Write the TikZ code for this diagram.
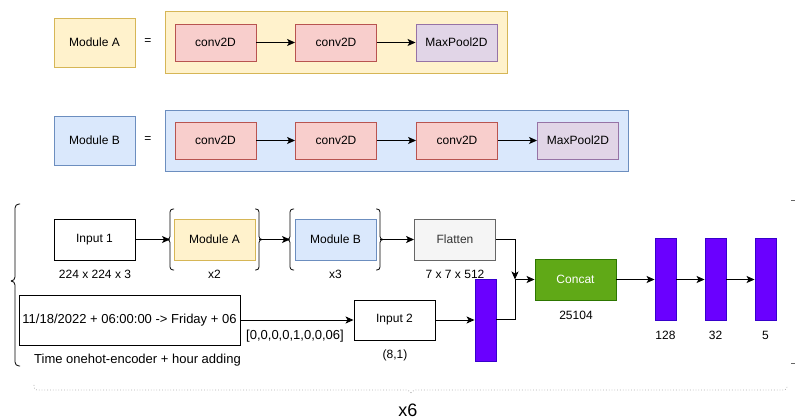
\documentclass[tikz,border=0pt]{standalone}
\usepackage{fontspec}
\setmainfont{Liberation Sans}
\usetikzlibrary{arrows.meta}
\definecolor{yelF}{HTML}{FFF2CC}\definecolor{yelD}{HTML}{D6B656}
\definecolor{bluF}{HTML}{DAE8FC}\definecolor{bluD}{HTML}{6C8EBF}
\definecolor{redF}{HTML}{F8CECC}\definecolor{redD}{HTML}{B85450}
\definecolor{purF}{HTML}{E1D5E7}\definecolor{purD}{HTML}{9673A6}
\definecolor{gryF}{HTML}{F5F5F5}\definecolor{gryD}{HTML}{666666}\definecolor{gryT}{HTML}{333333}
\definecolor{grnF}{HTML}{60A917}\definecolor{grnD}{HTML}{2D7600}
\definecolor{vioF}{HTML}{6A00FF}\definecolor{vioD}{HTML}{3700CC}
\definecolor{dotC}{HTML}{B0B0B0}
\begin{document}
\begin{tikzpicture}[x=1pt,y=-1pt,
  every node/.style={font=\fontsize{12}{14}\selectfont, inner sep=0pt},
  box/.style={draw, line width=0.9pt, minimum width=81pt, minimum height=41pt},
  modA/.style={box, fill=yelF, draw=yelD},
  modB/.style={box, fill=bluF, draw=bluD},
  lbl/.style={box, minimum height=49pt},
  conv/.style={box, fill=redF, draw=redD, minimum height=37pt},
  pool/.style={box, fill=purF, draw=purD, minimum height=37pt},
  cont/.style={draw, line width=0.9pt, inner sep=0pt},
  plain/.style={box, fill=white, draw=black},
  dense/.style={draw=vioD, fill=vioF, line width=0.9pt, minimum width=21pt, minimum height=82pt},
  conn/.style={line width=0.9pt, -{Stealth[length=8pt,width=7pt,inset=2pt]}},
  line/.style={line width=0.9pt},
  brk/.style={line width=0.8pt, rounded corners=3pt},
]
\useasboundingbox (0,0) rectangle (795,419);

% ---------- top definitions ----------
\node[cont, fill=yelF, draw=yelD, minimum width=342pt, minimum height=61.5pt] (contA) at (336,42.25) {};
\node[lbl, fill=yelF, draw=yelD] (labA) at (94.5,42.5) {Module A};
\node (eqA) at (148,41.5) {=};
\node[conv] (cA1) at (215.5,42.5) {conv2D};
\node[conv] (cA2) at (336,42.5) {conv2D};
\node[pool] (mpA) at (456.5,42.5) {MaxPool2D};
\draw[conn] (cA1) -- (cA2);
\draw[conn] (cA2) -- (mpA);

\node[cont, fill=bluF, draw=bluD, minimum width=463pt, minimum height=61pt] (contB) at (396.5,140.5) {};
\node[lbl, fill=bluF, draw=bluD] (labB) at (94.5,140.5) {Module B};
\node (eqB) at (148,139.5) {=};
\node[conv] (cB1) at (215.5,140.5) {conv2D};
\node[conv] (cB2) at (336,140.5) {conv2D};
\node[conv] (cB3) at (457,140.5) {conv2D};
\node[pool] (mpB) at (578,140.5) {MaxPool2D};
\draw[conn] (cB1) -- (cB2);
\draw[conn] (cB2) -- (cB3);
\draw[conn] (cB3) -- (mpB);

% ---------- bottom network ----------
\node[plain] (in1) at (94.5,239.5) {Input 1};
\node (in1l) at (95,274) {224 x 224 x 3};
\node[modA] (mA) at (214.5,239.5) {Module A};
\node (mAl) at (214.5,274) {x2};
\node[modB] (mB) at (335.5,239.5) {Module B};
\node (mBl) at (335.5,274) {x3};
\node[box, fill=gryF, draw=gryD, text=gryT] (flat) at (455,239.5) {Flatten};
\node (flatl) at (455,274) {7 x 7 x 512};

% brackets
\coordinate (bAl) at (170,239.5);
\coordinate (bAr) at (259,239.5);
\coordinate (bBl) at (290,239.5);
\coordinate (bBr) at (380,239.5);
\draw[brk] (174,209) -- (170,209) -- (170,239.5) -- (168,239.5);
\draw[brk] (168,239.5) -- (170,239.5) -- (170,270) -- (174,270);
\draw[brk] (255,209) -- (259,209) -- (259,239.5) -- (261,239.5);
\draw[brk] (261,239.5) -- (259,239.5) -- (259,270) -- (255,270);
\draw[brk] (294,209) -- (290,209) -- (290,239.5) -- (288,239.5);
\draw[brk] (288,239.5) -- (290,239.5) -- (290,270) -- (294,270);
\draw[brk] (376,209) -- (380,209) -- (380,239.5) -- (382,239.5);
\draw[brk] (382,239.5) -- (380,239.5) -- (380,270) -- (376,270);

\draw[conn] (in1) -- (bAl);
\draw[conn] (bAr) -- (bBl);
\draw[conn] (bBr) -- (flat);

\node[plain, font=\fontsize{13}{15}\selectfont, minimum width=221pt, minimum height=50pt] (time) at (129.5,320) {11/18/2022 + 06:00:00 -> Friday + 06};
\node[font=\fontsize{13}{15}\selectfont] (vec) at (295,336) {[0,0,0,0,1,0,0,06]};
\node[font=\fontsize{13}{15}\selectfont] (timel) at (137.5,360) {Time onehot-encoder + hour adding};
\node[plain, minimum height=40pt] (in2) at (394.5,320) {Input 2};
\node (in2l) at (395,355) {(8,1)};
\node[dense] (d0) at (485.5,320) {};
\draw[conn] (time.east) -- (in2.west);
\draw[conn] (in2.east) -- (in2.east -| d0.west);

\coordinate (merge) at (515,279.5);
\node[box, fill=grnF, draw=grnD, text=white] (cat) at (575.5,279.5) {Concat};
\node (catl) at (576,315) {25104};
\draw[conn] (flat.east) -| (merge);
\draw[line] (d0.east |- 0,319) -| (merge);
\draw[conn] (merge) -- (cat.west);

\node[dense] (d1) at (665.5,279.5) {};
\node[dense] (d2) at (715.5,279.5) {};
\node[dense] (d3) at (765.5,279.5) {};
\node (d1l) at (665.5,335) {128};
\node (d2l) at (715.5,335) {32};
\node (d3l) at (765.5,335) {5};
\draw[conn] (cat) -- (d1);
\draw[conn] (d1) -- (d2);
\draw[conn] (d2) -- (d3);

% outer braces
\draw[line width=0.8pt, rounded corners=4pt] (20,204) -- (15,204) -- (15,281) -- (11,281);
\draw[line width=0.8pt, rounded corners=4pt] (11,281) -- (15,281) -- (15,366) -- (20,366);
\draw[gryD, line width=0.8pt] (791,200) -- (795,200);
\draw[gryD, line width=0.8pt] (791,363) -- (795,363);
\draw[dotC, dotted, line width=0.8pt, rounded corners=3pt] (34,385) -- (34,390) -- (409,390) -- (411,393);
\draw[dotC, dotted, line width=0.8pt, rounded corners=3pt] (411,393) -- (413,390) -- (787,390) -- (787,385);
\node[font=\fontsize{18}{22}\selectfont] (x6) at (408,410) {x6};
\end{tikzpicture}
\end{document}
